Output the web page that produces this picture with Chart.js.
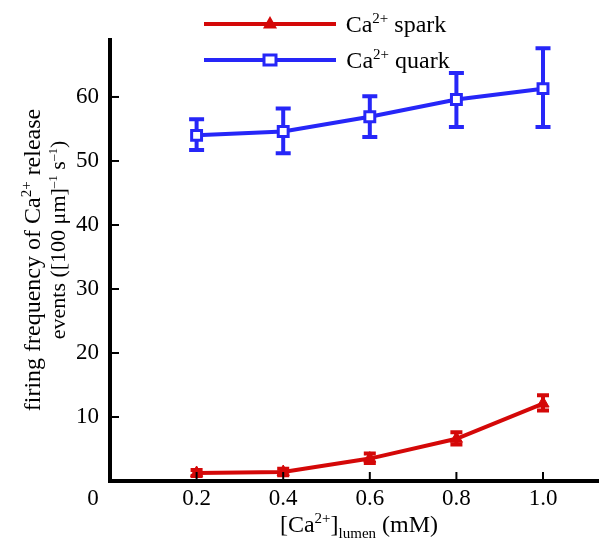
<!DOCTYPE html>
<html lang="en">
<head>
    <meta charset="UTF-8">
    <title>Ca2+ release events</title>
    <script src="https://cdn.jsdelivr.net/npm/chart.js@4"></script>
    <style>
        html, body {
            margin: 0;
            padding: 0;
            background: #fff;
            overflow: hidden;
        }
    </style>
</head>
<body>
    <canvas id="freqChart" width="599" height="542"></canvas>

    <script>
        // values
        const xVals = [0.2, 0.4, 0.6, 0.8, 1.0];
        const sparkMean = [1.25, 1.4, 3.5, 6.6, 12.1];
        const sparkLow = [0.8, 0.9, 2.8, 5.7, 11.0];
        const sparkHigh = [1.7, 1.9, 4.3, 7.6, 13.4];
        const quarkMean = [54.0, 54.6, 56.9, 59.6, 61.3];
        const quarkLow = [51.7, 51.2, 53.75, 55.3, 55.3];
        const quarkHigh = [56.5, 58.2, 60.1, 63.75, 67.6];
        const xTicks = [0.2, 0.4, 0.6, 0.8, 1.0];
        const yTicks = [10, 20, 30, 40, 50, 60];

        const RED = 'rgb(212, 8, 8)';
        const BLUE = 'rgb(38, 38, 248)';
        const FONT = '"Liberation Serif", "Times New Roman", serif';

        // draws text with superscript / subscript pieces, centred on x
        function richText(ctx, parts, x, y, size, ratio) {
            const small = Math.round(size * (ratio || 0.62));
            let w = 0;
            parts.forEach(p => {
                ctx.font = (p[1] ? small : size) + 'px ' + FONT;
                w += ctx.measureText(p[0]).width;
            });
            let cx = x - w / 2;
            ctx.textAlign = 'left';
            ctx.textBaseline = 'alphabetic';
            parts.forEach(p => {
                const s = p[1] ? small : size;
                ctx.font = s + 'px ' + FONT;
                let dy = 0;
                if (p[1] === 'sup') dy = -size * 0.38;
                if (p[1] === 'sub') dy = size * 0.25;
                ctx.fillText(p[0], cx, y + dy);
                cx += ctx.measureText(p[0]).width;
            });
        }

        function drawTriangle(ctx, x, y, r) {
            ctx.beginPath();
            ctx.moveTo(x, y - r);
            ctx.lineTo(x + r, y + r * 0.8);
            ctx.lineTo(x - r, y + r * 0.8);
            ctx.closePath();
            ctx.fill();
        }

        const extras = {
            id: 'extras',
            beforeDatasetsDraw(chart) {
                const ctx = chart.ctx;
                const xs = chart.scales.x, ys = chart.scales.y;
                const bars = [[sparkLow, sparkHigh, RED, 12], [quarkLow, quarkHigh, BLUE, 15]];
                ctx.save();
                bars.forEach(([lo, hi, col, cap]) => {
                    ctx.strokeStyle = col;
                    ctx.lineWidth = 4;
                    xVals.forEach((xv, i) => {
                        const px = xs.getPixelForValue(xv);
                        const y1 = ys.getPixelForValue(lo[i]);
                        const y2 = ys.getPixelForValue(hi[i]);
                        ctx.beginPath();
                        ctx.moveTo(px, y1); ctx.lineTo(px, y2);
                        ctx.moveTo(px - cap / 2, y1); ctx.lineTo(px + cap / 2, y1);
                        ctx.moveTo(px - cap / 2, y2); ctx.lineTo(px + cap / 2, y2);
                        ctx.stroke();
                    });
                });
                ctx.restore();
            },
            afterDraw(chart) {
                const ctx = chart.ctx;
                const xs = chart.scales.x, ys = chart.scales.y;
                const area = chart.chartArea;
                ctx.save();
                // inward tick marks + tick labels
                ctx.strokeStyle = '#000';
                ctx.fillStyle = '#000';
                ctx.lineWidth = 2;
                ctx.font = '23px ' + FONT;
                ctx.textBaseline = 'middle';
                ctx.textAlign = 'right';
                yTicks.forEach(v => {
                    const py = ys.getPixelForValue(v);
                    ctx.beginPath();
                    ctx.moveTo(area.left, py); ctx.lineTo(area.left + 9, py);
                    ctx.stroke();
                    ctx.fillText(String(v), area.left - 11, py);
                });
                ctx.textAlign = 'center';
                xTicks.forEach(v => {
                    const px = xs.getPixelForValue(v);
                    ctx.beginPath();
                    ctx.moveTo(px, area.bottom); ctx.lineTo(px, area.bottom - 9);
                    ctx.stroke();
                    ctx.fillText(v.toFixed(1), px, area.bottom + 18);
                });
                // origin label
                ctx.fillText('0', 93, area.bottom + 18);

                // x title
                richText(ctx, [['[Ca'], ['2+', 'sup'], [']'], ['lumen', 'sub'], [' (mM)']], 359, 532, 24);

                // y title (two lines)
                ctx.save();
                ctx.translate(40, 260);
                ctx.rotate(-Math.PI / 2);
                richText(ctx, [['firing frequency of Ca'], ['2+', 'sup'], [' release']], 0, 0, 24);
                ctx.restore();
                ctx.save();
                ctx.translate(65, 240);
                ctx.rotate(-Math.PI / 2);
                richText(ctx, [['events ([100 \u03bcm]'], ['\u20131', 'sup'], [' s'], ['\u20131', 'sup'], [')']], 0, 0, 22, 0.58);
                ctx.restore();

                // legend
                ctx.lineWidth = 4;
                ctx.strokeStyle = RED;
                ctx.beginPath(); ctx.moveTo(204, 24); ctx.lineTo(336, 24); ctx.stroke();
                ctx.fillStyle = RED;
                drawTriangle(ctx, 270, 23, 7);
                ctx.strokeStyle = BLUE;
                ctx.beginPath(); ctx.moveTo(204, 60); ctx.lineTo(336, 60); ctx.stroke();
                ctx.fillStyle = '#fff';
                ctx.lineWidth = 3;
                ctx.fillRect(264, 55, 12, 10);
                ctx.strokeRect(264, 55, 12, 10);
                ctx.fillStyle = '#000';
                richText(ctx, [['Ca'], ['2+', 'sup'], [' spark']], 345 + 51, 32, 24);
                richText(ctx, [['Ca'], ['2+', 'sup'], [' quark']], 345 + 53, 68, 24);
                ctx.restore();
            }
        };

        const ctx = document.getElementById('freqChart').getContext('2d');
        const freqChart = new Chart(ctx, {
            type: 'line',
            data: {
                datasets: [{
                    label: 'Ca2+ spark',
                    data: xVals.map((x, i) => ({ x: x, y: sparkMean[i] })),
                    borderColor: RED,
                    backgroundColor: RED,
                    borderWidth: 4,
                    pointStyle: 'triangle',
                    pointRadius: 7,
                    pointBorderWidth: 1,
                    tension: 0
                }, {
                    label: 'Ca2+ quark',
                    data: xVals.map((x, i) => ({ x: x, y: quarkMean[i] })),
                    borderColor: BLUE,
                    backgroundColor: '#fff',
                    borderWidth: 4,
                    pointStyle: 'rect',
                    pointRadius: 7,
                    pointBorderWidth: 3,
                    tension: 0
                }]
            },
            options: {
                responsive: false,
                animation: false,
                layout: { autoPadding: false, padding: { top: 40, right: 1, left: 0, bottom: 0 } },
                plugins: {
                    legend: { display: false },
                    tooltip: { enabled: false }
                },
                scales: {
                    x: {
                        type: 'linear',
                        min: 0,
                        max: 1.127,
                        afterBuildTicks: s => { s.ticks = xTicks.map(v => ({ value: v })); },
                        afterFit: s => { s.height = 61; },
                        grid: { display: false, drawTicks: false },
                        border: { display: true, color: '#000', width: 4 },
                        ticks: { display: false }
                    },
                    y: {
                        min: 0,
                        max: 68.9,
                        afterBuildTicks: s => { s.ticks = yTicks.map(v => ({ value: v })); },
                        afterFit: s => { s.width = 110; },
                        grid: { display: false, drawTicks: false },
                        border: { display: true, color: '#000', width: 4 },
                        ticks: { display: false }
                    }
                }
            },
            plugins: [extras]
        });
    </script>
</body>
</html>
